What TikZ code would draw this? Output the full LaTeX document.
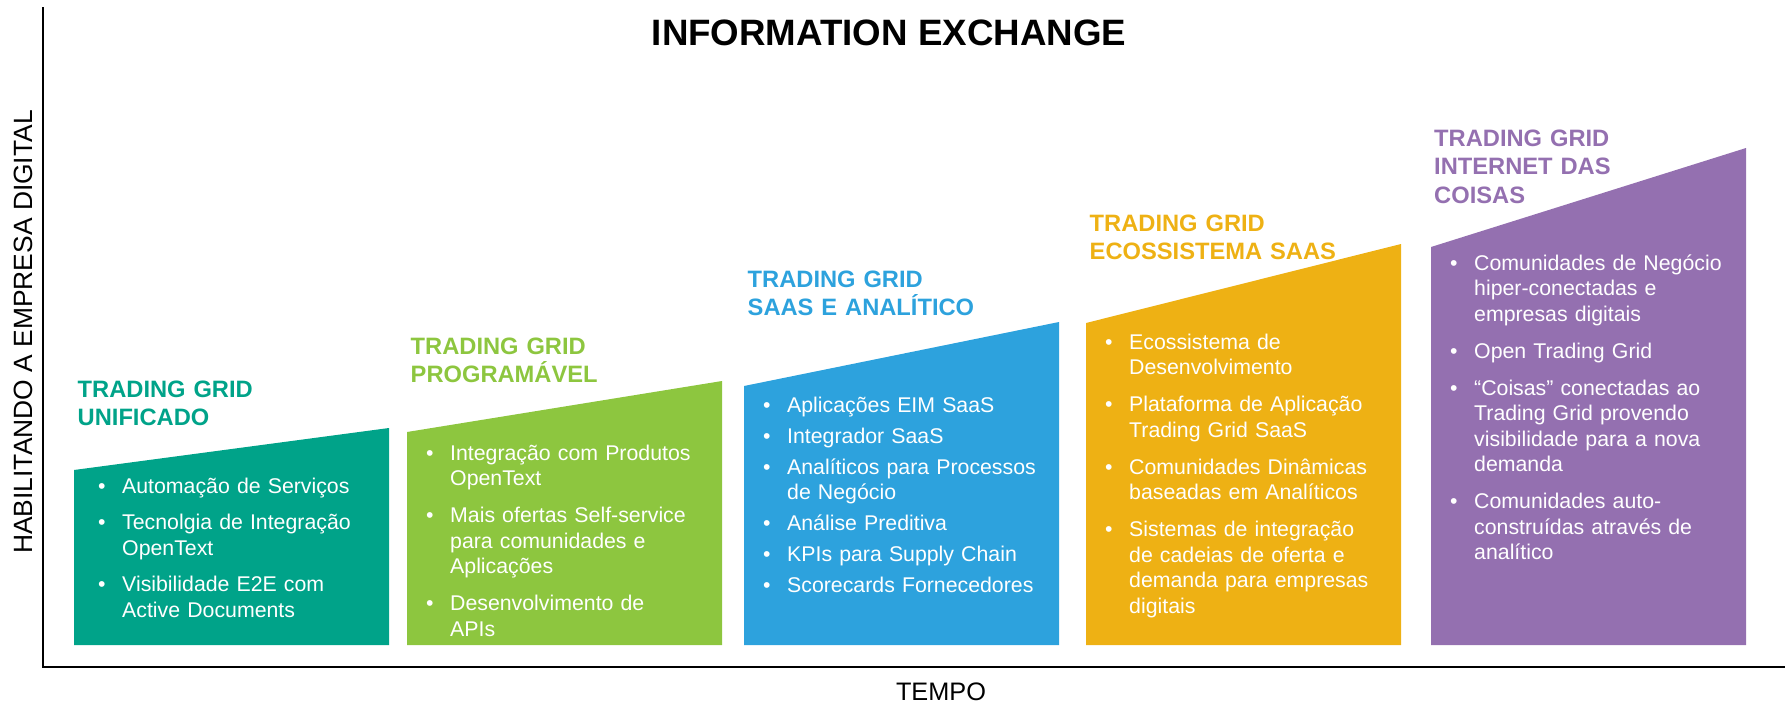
\documentclass[tikz,border=0pt]{standalone}
\usepackage{fontspec}
\setmainfont{Liberation Sans}
\usetikzlibrary{calc}

\definecolor{gridteal}{HTML}{00A389}
\definecolor{gridgreen}{HTML}{8DC63F}
\definecolor{gridblue}{HTML}{2DA2DD}
\definecolor{gridyellow}{HTML}{EEB114}
\definecolor{gridpurple}{HTML}{9470B0}

\newcommand{\itm}[1]{\hangindent=24pt\hangafter=1\makebox[24pt][l]{\textbullet}#1\par}

\tikzset{
  phase head/.style={anchor=base west, inner sep=0pt, text width=340pt,
    font=\bfseries\fontsize{23.7}{28.5}\selectfont},
  phase list/.style={anchor=base west, inner sep=0pt, text width=290pt, text=white,
    font=\fontsize{21.3}{25.5}\selectfont},
  axis line/.style={line width=2.5pt}
}

\begin{document}
\begin{tikzpicture}[x=1pt, y=-1pt]
    \useasboundingbox (0,0) rectangle (1787,702);

    \fill [gridteal] (74,645) -- (74,470) -- (389,428) -- (389,645) -- cycle;
    \fill [gridgreen] (407,645) -- (407,432) -- (722,381) -- (722,645) -- cycle;
    \fill [gridblue] (744,645) -- (744,386) -- (1059,322) -- (1059,645) -- cycle;
    \fill [gridyellow] (1086,645) -- (1086,323) -- (1401,244) -- (1401,645) -- cycle;
    \fill [gridpurple] (1431,645) -- (1431,247) -- (1746,148) -- (1746,645) -- cycle;

    \node [phase head, text=gridteal] (h1) at (77.5,397) {TRADING GRID\\UNIFICADO};
    \node [phase head, text=gridgreen] (h2) at (410.5,354) {TRADING GRID\\PROGRAMÁVEL};
    \node [phase head, text=gridblue] (h3) at (747.5,287) {TRADING GRID\\SAAS E ANALÍTICO};
    \node [phase head, text=gridyellow] (h4) at (1089.5,231) {TRADING GRID\\ECOSSISTEMA SAAS};
    \node [phase head, text=gridpurple] (h5) at (1434,146) {TRADING GRID\\INTERNET DAS\\COISAS};

    \node [phase list] (l1) at (98,493) {\setlength\parskip{11pt}%
      \itm{Automação de Serviços}%
      \itm{Tecnolgia de Integração\newline OpenText}%
      \itm{Visibilidade E2E com\newline Active Documents}};
    \node [phase list] (l2) at (426,460) {\setlength\parskip{11.5pt}%
      \itm{Integração com Produtos\newline OpenText}%
      \itm{Mais ofertas Self-service\newline para comunidades e\newline Aplicações}%
      \itm{Desenvolvimento de\newline APIs}};
    \node [phase list] (l3) at (763,412) {\setlength\parskip{5.5pt}%
      \itm{Aplicações EIM SaaS}%
      \itm{Integrador SaaS}%
      \itm{Analíticos para Processos\newline de Negócio}%
      \itm{Análise Preditiva}%
      \itm{KPIs para Supply Chain}%
      \itm{Scorecards Fornecedores}};
    \node [phase list] (l4) at (1105,349) {\setlength\parskip{11.5pt}%
      \itm{Ecossistema de\newline Desenvolvimento}%
      \itm{Plataforma de Aplicação\newline Trading Grid SaaS}%
      \itm{Comunidades Dinâmicas\newline baseadas em Analíticos}%
      \itm{Sistemas de integração\newline de cadeias de oferta e\newline demanda para empresas\newline digitais}};
    \node [phase list] (l5) at (1450,270) {\setlength\parskip{11.5pt}%
      \itm{Comunidades de Negócio\newline hiper-conectadas e\newline empresas digitais}%
      \itm{Open Trading Grid}%
      \itm{“Coisas” conectadas ao\newline Trading Grid provendo\newline visibilidade para a nova\newline demanda}%
      \itm{Comunidades auto-\newline construídas através de\newline analítico}};

    \node [anchor=base, font=\bfseries\fontsize{36.7}{40}\selectfont] (title) at (889,45) {INFORMATION EXCHANGE};
    \node [anchor=base, rotate=90, font=\fontsize{26.4}{30}\selectfont] (ylab) at (32,332) {HABILITANDO A EMPRESA DIGITAL};
    \node [anchor=base, font=\fontsize{25.3}{30}\selectfont] (xlab) at (941,700) {TEMPO};

    \coordinate (o) at (43,667);
    \coordinate (ytop) at (43,7);
    \coordinate (xend) at (1785,667);
    \draw [axis line] (ytop) -- (o) -- (xend);
\end{tikzpicture}
\end{document}
